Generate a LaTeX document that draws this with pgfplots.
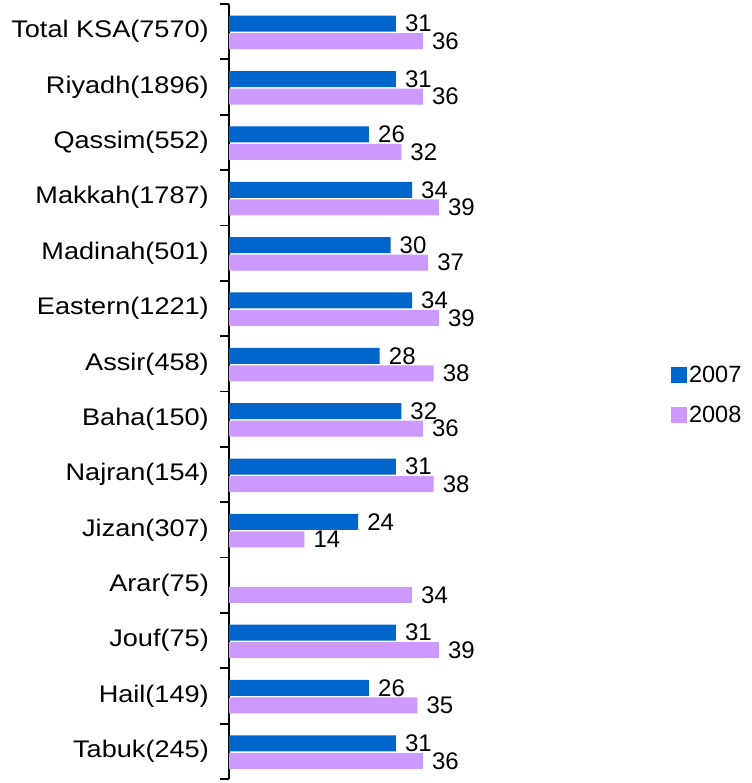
\documentclass[border=0pt]{standalone}
\usepackage{pgfplots}
\pgfplotsset{compat=1.18}
\usepackage{fontspec}
\setmainfont{Liberation Sans}
\newfontfamily\tickfont{Liberation Sans}[FakeStretch=1.13]
\definecolor{c07}{HTML}{0066CC}
\definecolor{c08}{HTML}{CC99FF}
\begin{document}
\begin{tikzpicture}
\useasboundingbox (-229pt,-4pt) rectangle (522pt,779pt);
\begin{axis}[
  at={(0,0)}, anchor=south west, scale only axis,
  width=323pt, height=775pt,
  xmin=0, xmax=60, ymin=-0.5, ymax=13.5, y dir=reverse,
  /pgf/number format/assume math mode=true,
  axis x line=none, axis y line*=left,
  y axis line style={line width=1.8pt, -},
  ytick={0,...,13},
  yticklabels={Total KSA(7570),Riyadh(1896),Qassim(552),Makkah(1787),Madinah(501),Eastern(1221),Assir(458),Baha(150),Najran(154),Jizan(307),Arar(75),Jouf(75),Hail(149),Tabuk(245)},
  major tick length=0pt,
  minor ytick={-0.5,0.5,...,13.5},
  minor tick length=9pt, tick align=outside,
  every tick/.style={black, line width=1.8pt},
  yticklabel style={font=\tickfont\fontsize{24}{28}\selectfont, inner sep=0pt, xshift=-20pt},
  xbar, bar width=16pt,
  nodes near coords,
  nodes near coords style={font=\fontsize{24}{28}\selectfont, anchor=west, inner sep=0pt, xshift=9pt, black},
  legend style={at={(1.368,0.495)}, anchor=west, draw=none, fill=none,
    font=\fontsize{23.5}{28}\selectfont, row sep=18pt, inner sep=0pt,
    cells={anchor=west}},
  legend image code/.code={\fill[#1,draw=none] (0pt,-8pt) rectangle (16pt,8pt);},
  clip=false,
]
\addplot[fill=c07, draw=none, bar shift=8pt] coordinates {(31,0) (31,1) (26,2) (34,3) (30,4) (34,5) (28,6) (32,7) (31,8) (24,9) (31,11) (26,12) (31,13)};
\addplot[fill=c08, draw=none, bar shift=-9.5pt] coordinates {(36,0) (36,1) (32,2) (39,3) (37,4) (39,5) (38,6) (36,7) (38,8) (14,9) (34,10) (39,11) (35,12) (36,13)};
\legend{2007,2008}
\end{axis}
\end{tikzpicture}
\end{document}
